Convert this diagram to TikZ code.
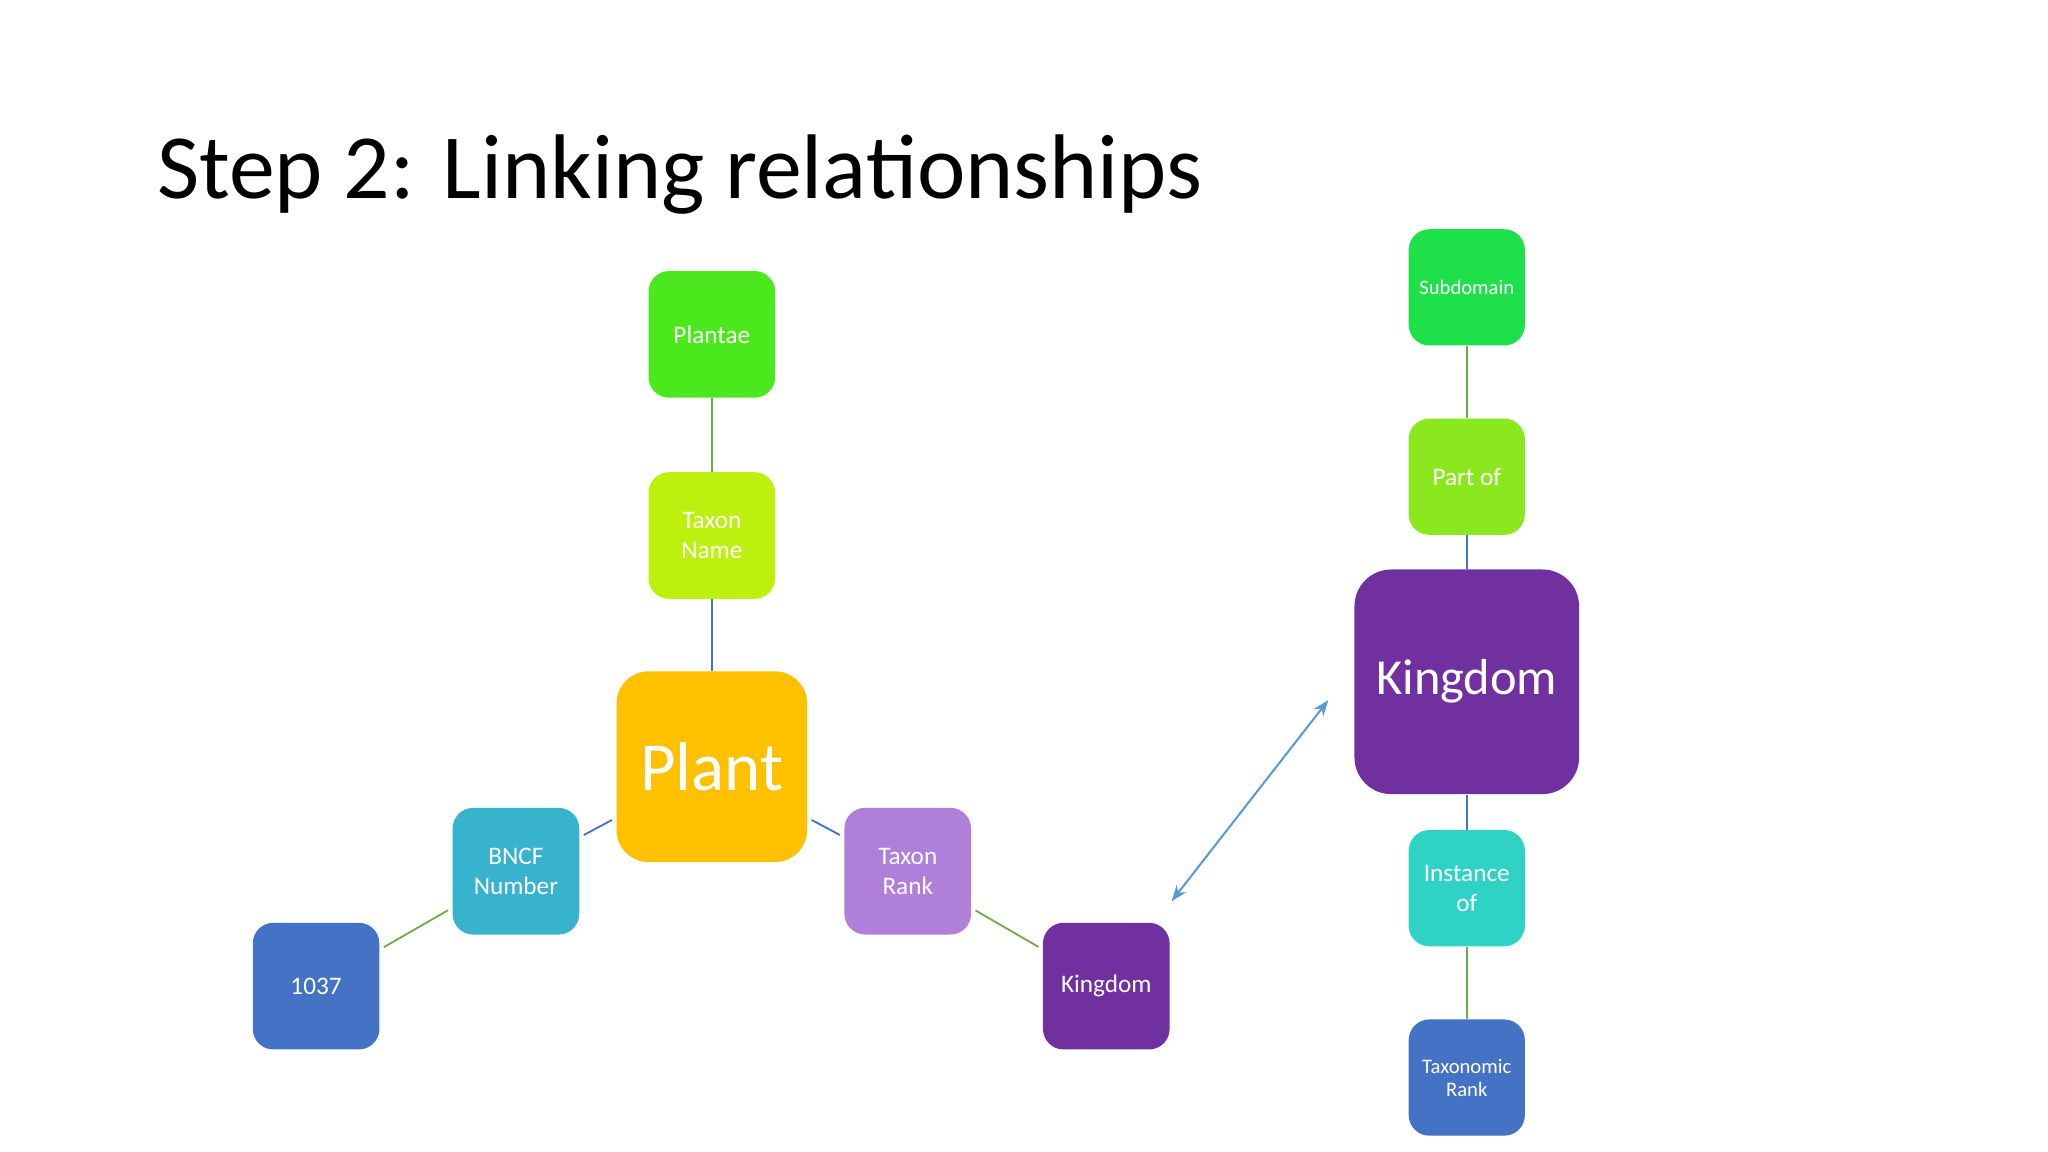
\documentclass[tikz,border=0pt]{standalone}
\usepackage{fontspec}
\setmainfont{Carlito}
\usetikzlibrary{arrows.meta,positioning}

\definecolor{cPlantae}{HTML}{4CE81E}
\definecolor{cTaxName}{HTML}{BDF00E}
\definecolor{cPlant}{HTML}{FFC000}
\definecolor{cBncf}{HTML}{38B3CE}
\definecolor{cNum}{HTML}{4472C4}
\definecolor{cTaxRank}{HTML}{B07FD9}
\definecolor{cKing}{HTML}{7030A0}
\definecolor{cPartOf}{HTML}{8BE81E}
\definecolor{cSubdom}{HTML}{1EE04A}
\definecolor{cInst}{HTML}{2ED3C6}
\definecolor{lGreen}{HTML}{70AD47}
\definecolor{lBlue}{HTML}{4472C4}
\definecolor{lArrow}{HTML}{5B9BD5}

\tikzset{
  box/.style={rounded corners=9pt, text=white, align=center, minimum width=1.94cm, minimum height=1.94cm, inner sep=1pt, font=\fontsize{11}{13}\selectfont},
  sbox/.style={box, minimum width=1.78cm, minimum height=1.78cm},
  gl/.style={lGreen, line width=0.8pt},
  bl/.style={lBlue, line width=0.8pt},
}

\begin{document}
\begin{tikzpicture}[x=0.02cm, y=-0.02cm]
  \useasboundingbox[fill=white] (0,0) rectangle (1568,882);

  % Title
  \node[anchor=base west, inner sep=0, font=\fontsize{40}{48}\selectfont] (title) at (120,152) {Step 2: Linking relationships};

  % Left tree
  \node[box, fill=cPlant, minimum width=2.92cm, minimum height=2.92cm, rounded corners=14pt, font=\fontsize{30}{34}\selectfont] (plant) at (545,587) {Plant};
  \node[box, fill=cTaxName] (taxName) at (545,410) {Taxon\\Name};
  \node[box, fill=cPlantae] (plantae) at (545,256) {Plantae};
  \node[box, fill=cBncf] (bncf) at (395,667) {BNCF\\Number};
  \node[box, fill=cNum] (num) at (242,755) {1037};
  \node[box, fill=cTaxRank] (taxRank) at (695,667) {Taxon\\Rank};
  \node[box, fill=cKing] (kingS) at (847,755) {Kingdom};

  % Right tree
  \node[box, fill=cKing, minimum width=3.44cm, minimum height=3.44cm, rounded corners=16pt, font=\fontsize{22}{26}\selectfont] (kingB) at (1123,522) {Kingdom};
  \node[sbox, fill=cPartOf] (partOf) at (1123,365) {Part of};
  \node[sbox, fill=cSubdom, font=\fontsize{9}{11}\selectfont] (subdom) at (1123,220) {Subdomain};
  \node[sbox, fill=cInst] (inst) at (1123,680) {Instance\\of};
  \node[sbox, fill=cNum, font=\fontsize{9}{10}\selectfont] (taxoRank) at (1123,825) {Taxonomic\\Rank};

  % Arrow ends
  \coordinate (arrS) at (897,690);
  \coordinate (arrB) at (1017,536);

  % Links
  \draw[gl] (plantae) -- (taxName);
  \draw[bl] (taxName) -- (plant);
  \draw[bl, shorten <=2pt, shorten >=2pt] (plant) -- (bncf);
  \draw[gl, shorten <=2pt, shorten >=2pt] (bncf) -- (num);
  \draw[bl, shorten <=2pt, shorten >=2pt] (plant) -- (taxRank);
  \draw[gl, shorten <=2pt, shorten >=2pt] (taxRank) -- (kingS);
  \draw[gl] (subdom) -- (partOf);
  \draw[bl] (partOf) -- (kingB);
  \draw[bl] (kingB) -- (inst);
  \draw[gl] (inst) -- (taxoRank);
  \draw[lArrow, line width=0.9pt, {Stealth[length=7pt]}-{Stealth[length=7pt]}] (arrS) -- (arrB);
\end{tikzpicture}
\end{document}
